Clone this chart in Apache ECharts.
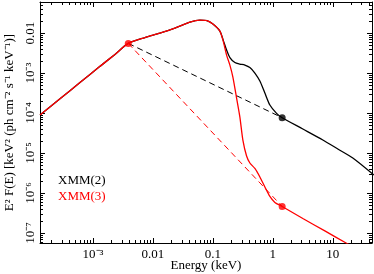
<!DOCTYPE html>
<html>
<head>
<meta charset="utf-8">
<script src="https://cdn.jsdelivr.net/npm/echarts@6/dist/echarts.min.js"></script>
<style>html,body{margin:0;padding:0;background:#fff}#c{width:374px;height:274px}</style>
</head>
<body>
<div id="c"></div>
<script>
// ---- data (energy in keV, E^2 F(E)) ----
var xmm2Energy = [1.308e-4, 2.818e-4, 6.07e-4, 1.308e-3, 2.326e-3, 3.876e-3, 7.356e-3, 0.01308, 0.02326, 0.04136, 0.0607, 0.0794, 0.1, 0.1308,
  0.1485, 0.1692, 0.1920, 0.2326, 0.2818, 0.3415, 0.4136, 0.5012, 0.6072, 0.7356, 0.8913, 1.152, 1.429, 3.162, 6.813, 12.12, 21.54, 48.3];
var xmm2Flux = [8.91e-5, 2.265e-4, 5.79e-4, 1.471e-3, 2.934e-3, 5.53e-3, 7.72e-3, 0.0100, 0.01334, 0.01884, 0.02113, 0.02054, 0.01679, 0.01122,
  6.68e-3, 3.758e-3, 2.441e-3, 1.831e-3, 1.679e-3, 1.585e-3, 1.373e-3, 1.0e-3, 6.31e-4, 3.16e-4, 1.585e-4, 9.83e-5, 7.63e-5, 3.98e-5, 2.113e-5, 1.259e-5, 7.5e-6, 2.82e-6];

var xmm3Energy = [1.308e-4, 2.818e-4, 6.07e-4, 1.308e-3, 2.326e-3, 3.876e-3, 7.356e-3, 0.01308, 0.02326, 0.04136, 0.0607, 0.0794, 0.1, 0.1308,
  0.1485, 0.1692, 0.1920, 0.2154, 0.2483, 0.2818, 0.3162, 0.3644, 0.4136, 0.5012, 0.6072, 0.7356, 0.8913, 1.080, 1.429, 3.162, 7.356, 16.92, 48.3];
var xmm3Flux = [8.91e-5, 2.265e-4, 5.79e-4, 1.471e-3, 2.934e-3, 5.53e-3, 7.72e-3, 0.0100, 0.01334, 0.01884, 0.02113, 0.02054, 0.01679, 0.01122,
  6.31e-3, 2.818e-3, 1.585e-3, 7.94e-4, 2.371e-4, 7.94e-5, 2.113e-5, 8.41e-6, 5.62e-6, 4.1e-6, 2.512e-6, 1.413e-6, 8.18e-7, 5.79e-7, 4.6e-7, 2.304e-7, 1.122e-7, 5.53e-8, 2.24e-8];

// marked points: [energy, flux]
var pointStart = [3.876e-3, 5.53e-3];
var pointXmm2 = [1.429, 7.63e-5];
var pointXmm3 = [1.429, 4.6e-7];

var seriesNames = ['XMM(2)', 'XMM(3)'];
var xTickLabels = {'-3': '10\u207B\u00B3', '-2': '0.01', '-1': '0.1', '0': '1', '1': '10'};
var yTickLabels = {'-7': '10\u207B\u2077', '-6': '10\u207B\u2076', '-5': '10\u207B\u2075', '-4': '10\u207B\u2074', '-3': '10\u207B\u00B3', '-2': '0.01'};

var xMin = 1.308e-4, xMax = 45, yMin = 5.6e-8, yMax = 0.06;

function minorTicks(lo, hi) {
  var out = [];
  for (var d = Math.floor(Math.log10(lo)); d <= Math.ceil(Math.log10(hi)); d++) {
    for (var m = 2; m <= 9; m++) {
      var v = m * Math.pow(10, d);
      if (v > lo && v < hi) out.push(v);
    }
  }
  return out;
}
var xMinor = minorTicks(xMin, xMax);
var yMinor = minorTicks(yMin, yMax);

function zip(a, b) { return a.map(function (v, i) { return [v, b[i]]; }); }

var FONT = '"Liberation Serif", "Times New Roman", serif';
var lbl = function (map) {
  return function (v) { var e = Math.round(Math.log10(v)); return map[String(e)] || ''; };
};

function axisBase(extra) {
  var o = {
    type: 'log', logBase: 10,
    axisLine: { show: true, lineStyle: { color: '#000', width: 1 } },
    axisTick: { show: true, inside: true, length: 5, lineStyle: { color: '#000', width: 1 } },
    splitLine: { show: false },
    minorTick: { show: false }
  };
  for (var k in extra) o[k] = extra[k];
  return o;
}

var chart = echarts.init(document.getElementById('c'), null, { renderer: 'canvas' });

var lineW = 1.3;
chart.setOption({
  animation: false,
  backgroundColor: '#fff',
  grid: { left: 40, right: 2, top: 2, bottom: 31, outerBoundsMode: 'none' },
  xAxis: [
    axisBase({ position: 'bottom', min: xMin, max: xMax,
      axisLabel: { formatter: lbl(xTickLabels), fontFamily: FONT, fontSize: 13, color: '#000', margin: 5, showMinLabel: false, showMaxLabel: false },
      name: 'Energy (keV)', nameLocation: 'middle', nameGap: 16, nameMoveOverlap: false,
      nameTextStyle: { fontFamily: FONT, fontSize: 13, color: '#000' } }),
    axisBase({ position: 'top', min: xMin, max: xMax, axisLabel: { show: false } })
  ],
  yAxis: [
    axisBase({ position: 'left', min: yMin, max: yMax,
      axisLabel: { formatter: lbl(yTickLabels), rotate: 90, fontFamily: FONT, fontSize: 13, color: '#000', margin: 3, showMinLabel: false, showMaxLabel: false },
      name: 'E\u00B2 F(E) [keV\u00B2 (ph cm\u207B\u00B2 s\u207B\u00B9 keV\u207B\u00B9)]', nameLocation: 'middle', nameGap: 24, nameMoveOverlap: false,
      nameTextStyle: { fontFamily: FONT, fontSize: 13, color: '#000' } }),
    axisBase({ position: 'right', min: yMin, max: yMax, axisLabel: { show: false } })
  ],
  graphic: [
    { type: 'text', x: 58, y: 181, style: { text: seriesNames[0], fill: '#000', font: '13px ' + FONT, verticalAlign: 'middle' } },
    { type: 'text', x: 58, y: 197, style: { text: seriesNames[1], fill: '#ff0000', font: '13px ' + FONT, verticalAlign: 'middle' } }
  ],
  series: [
    { type: 'custom', silent: true, z: 5, data: xMinor.map(function (v) { return [v, 1e-3]; }),
      renderItem: function (params, api) {
        var cs = params.coordSys;
        var x = Math.round(api.coord([api.value(0), 1e-3])[0]) + 0.5;
        var b = cs.y + cs.height;
        return { type: 'group', children: [
          { type: 'line', shape: { x1: x, y1: b, x2: x, y2: b - 3 }, style: { stroke: '#000', lineWidth: 1 } },
          { type: 'line', shape: { x1: x, y1: cs.y, x2: x, y2: cs.y + 3 }, style: { stroke: '#000', lineWidth: 1 } }
        ] };
      } },
    { type: 'custom', silent: true, z: 5, data: yMinor.map(function (v) { return [1, v]; }),
      renderItem: function (params, api) {
        var cs = params.coordSys;
        var y = Math.round(api.coord([1, api.value(1)])[1]) + 0.5;
        var r = cs.x + cs.width;
        return { type: 'group', children: [
          { type: 'line', shape: { x1: cs.x, y1: y, x2: cs.x + 3, y2: y }, style: { stroke: '#000', lineWidth: 1 } },
          { type: 'line', shape: { x1: r, y1: y, x2: r - 3, y2: y }, style: { stroke: '#000', lineWidth: 1 } }
        ] };
      } },
    { name: 'XMM(2) link', type: 'line', data: [pointStart, pointXmm2], showSymbol: false, silent: true,
      lineStyle: { color: '#000', width: 1, type: [6, 4] }, z: 2 },
    { name: 'XMM(3) link', type: 'line', data: [pointStart, pointXmm3], showSymbol: false, silent: true,
      lineStyle: { color: '#ff0000', width: 1, type: [6, 4] }, z: 2 },
    { name: seriesNames[0], type: 'line', data: zip(xmm2Energy, xmm2Flux), showSymbol: false, smooth: 0.25,
      lineStyle: { color: '#000', width: lineW }, itemStyle: { color: '#000' }, z: 3 },
    { name: seriesNames[1], type: 'line', data: zip(xmm3Energy, xmm3Flux), showSymbol: false, smooth: 0.25,
      lineStyle: { color: '#ff0000', width: lineW }, itemStyle: { color: '#ff0000' }, z: 4 },
    { type: 'scatter', data: [pointXmm2], symbolSize: 7, itemStyle: { color: '#000' }, z: 6, silent: true },
    { type: 'scatter', data: [pointStart, pointXmm3], symbolSize: 7, itemStyle: { color: '#ff0000' }, z: 6, silent: true }
  ]
});
</script>
</body>
</html>
